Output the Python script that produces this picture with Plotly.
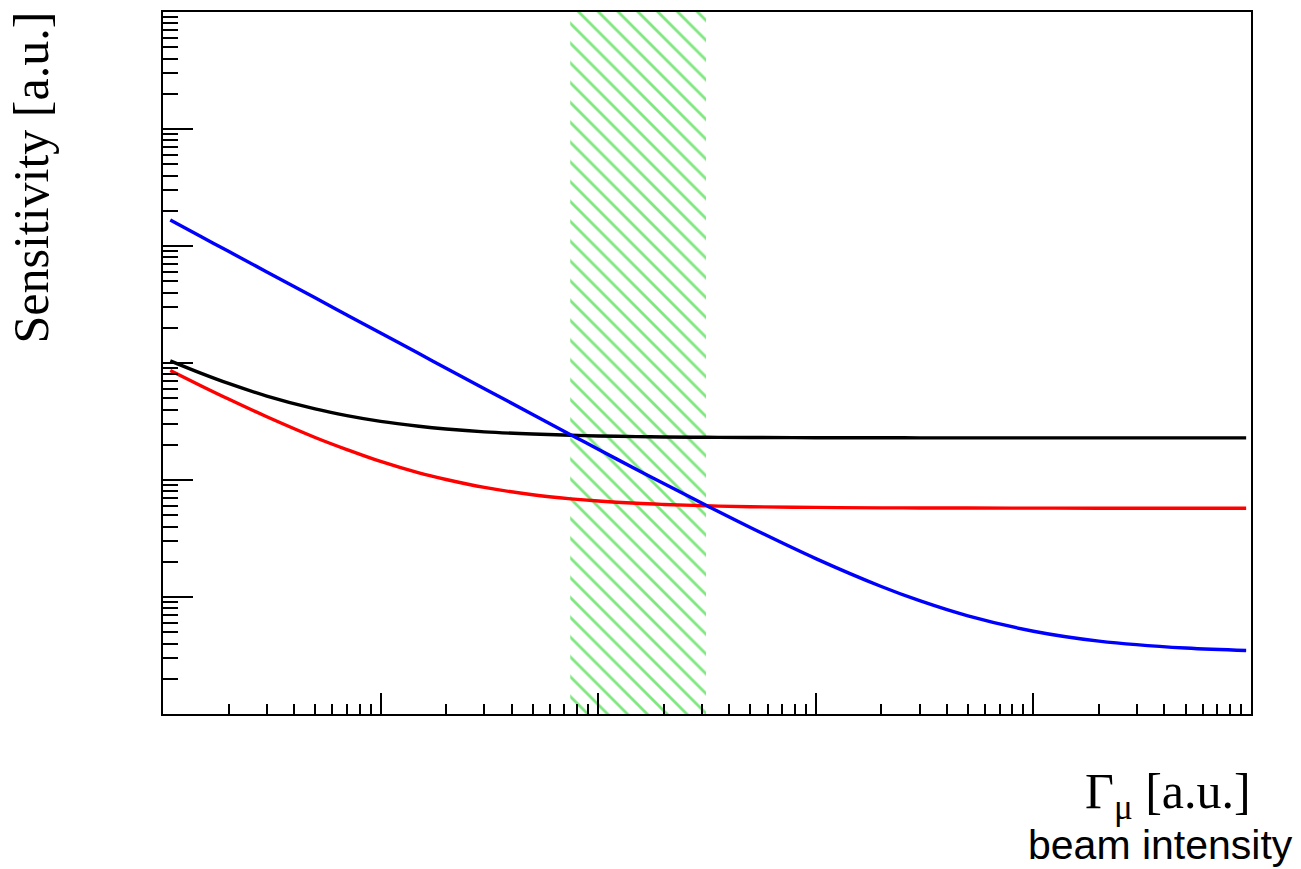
import plotly.graph_objects as go

# Beam intensity Γμ (a.u.) at which the curves are sampled
gamma = [1.08, 1.5, 2, 3, 5, 7, 10, 15, 20, 30, 50, 75, 100, 150, 200, 313,
         500, 1000, 2000, 3000, 5000, 10000, 20000, 50000, 95000]

# Sensitivity (a.u.) of the three configurations
sens_black = [1044, 816, 669, 522, 405, 355, 317, 288, 273, 258, 247, 241, 238,
              235, 233.4, 231.8, 230.8, 229.9, 229.4, 229.3, 229.2, 229.1, 229, 229, 229]
sens_red = [863, 637, 492, 347, 231, 182, 144, 115, 101, 86.4, 74.8, 69, 66.1,
            63.2, 61.8, 60.2, 59.1, 58.3, 57.8, 57.7, 57.6, 57.5, 57.4, 57.4, 57.4]
sens_blue = [16670, 12003, 9003, 6003, 3603, 2575, 1803, 1203, 903, 603, 363, 243,
             183, 123, 93.3, 60.8, 39.3, 21.3, 12.3, 9.3, 6.9, 5.1, 4.2, 3.66, 3.49]

# Optimal intensity window (between the two crossings)
window_gamma = [74.4, 313]

# Axis extents (log10)
x_range = [0, 5]
y_range = [0, 6]

fig = go.Figure()

lo, hi = 10 ** y_range[0], 10 ** y_range[1]
fig.add_trace(go.Scatter(
    x=[window_gamma[0], window_gamma[1], window_gamma[1], window_gamma[0], window_gamma[0]],
    y=[lo, lo, hi, hi, lo],
    mode="lines", fill="toself", line=dict(width=0),
    fillcolor="rgba(0,0,0,0)",
    fillpattern=dict(shape="\\", fgcolor="#00d000", bgcolor="rgba(0,0,0,0)",
                     size=14, solidity=0.2),
    hoverinfo="skip", showlegend=False,
))

for sy, col in [(sens_black, "black"), (sens_red, "#ff0000"), (sens_blue, "#0000ff")]:
    fig.add_trace(go.Scatter(x=gamma, y=sy, mode="lines",
                             line=dict(color=col, width=3.4, shape="spline", smoothing=1),
                             showlegend=False))

axis_common = dict(type="log", showgrid=False, zeroline=False, showticklabels=False,
                   showline=True, mirror=True, linecolor="black", linewidth=2,
                   ticks="inside", tickcolor="black", dtick=1)

fig.update_xaxes(**axis_common, range=x_range, ticklen=21, tickwidth=1.5,
                 minor=dict(ticks="inside", ticklen=10, tickwidth=1.5,
                            tickcolor="black", dtick="D1", showgrid=False))
fig.update_yaxes(**axis_common, range=y_range, ticklen=30, tickwidth=2,
                 minor=dict(ticks="inside", ticklen=15, tickwidth=2,
                            tickcolor="black", dtick="D1", showgrid=False))

serif = "Liberation Serif, Times New Roman, serif"
sans = "Liberation Sans, Arial, sans-serif"

fig.add_annotation(text="Sensitivity [a.u.]", textangle=-90, showarrow=False,
                   xref="paper", yref="paper", x=-0.121, y=1.004,
                   xanchor="center", yanchor="top",
                   font=dict(family=serif, size=50, color="black"))
fig.add_annotation(text="Γ<sub>μ</sub> [a.u.]", showarrow=False,
                   xref="paper", yref="paper", x=1.002, y=-0.116,
                   xanchor="right", yanchor="middle",
                   font=dict(family=serif, size=50, color="black"))
fig.add_annotation(text="beam intensity", showarrow=False, borderpad=0,
                   xref="paper", yref="paper", x=1.0395, y=-0.186,
                   xanchor="right", yanchor="middle",
                   font=dict(family=sans, size=41, color="black"))

fig.update_layout(width=1301, height=869,
                  margin=dict(l=163, r=50, t=10, b=155),
                  plot_bgcolor="white", paper_bgcolor="white")

fig.write_html("out.html")
